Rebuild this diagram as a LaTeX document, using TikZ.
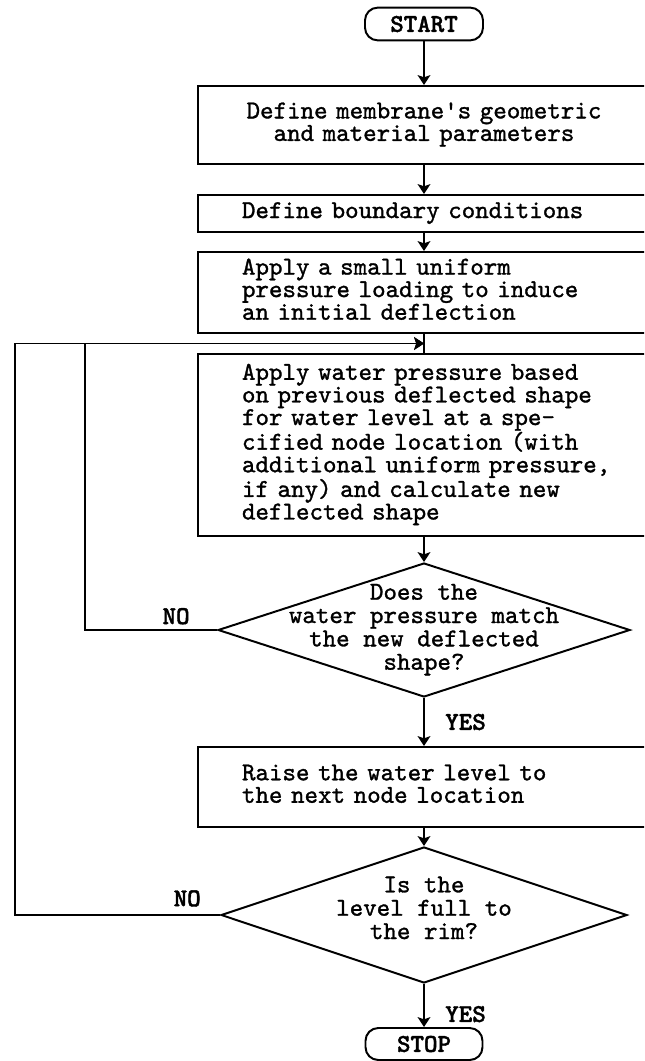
\documentclass[tikz,border=0pt]{standalone}
\usepackage{fontspec}
\newfontfamily\flowfont{lmmono10-regular}[Extension=.otf,FakeBold=1.2]
\newfontfamily\answerfont{lmmonolt10-bold}[Extension=.otf,FakeBold=1.5]
\usetikzlibrary{arrows.meta,shapes.geometric}
\usetikzlibrary{positioning,calc}
\tikzset{
    block/.style={
           rectangle,
           draw=black, line width=1.4pt,
           minimum width=11.3cm,
           text width=9.1cm,
           inner xsep=1.1cm,
           inner ysep=0pt,
           align=left,
           font=\flowfont\fontsize{18.3}{16}\selectfont,
           },
    terminal/.style={
           rectangle,
           rounded corners=0.32cm,
           draw=black, line width=1.4pt,
           minimum width=2.95cm,
           minimum height=0.82cm,
           inner sep=0pt,
           font=\answerfont\fontsize{18.3}{16}\selectfont,
           },
    decision/.style={
           diamond,
           draw=black, line width=1.4pt,
           minimum width=10.3cm,
           minimum height=3.35cm,
           inner sep=0pt,
           },
    question/.style={
           align=center,
           font=\flowfont\fontsize{18.3}{16.6}\selectfont,
           },
    answer/.style={
           font=\answerfont\fontsize{18.3}{16}\selectfont,
           },
}

\begin{document}
\begin{tikzpicture}[->,>={Stealth[length=7pt,width=9pt,inset=1.5pt]},line width=1.4pt]
        % page size of the scan, boxes run off its right side
        \path[use as bounding box,clip] (0,0) rectangle (16.1,-26.525);

        % START
        \node[terminal] (FC_START) at (10.6,-0.6) {START};

        % geometry and material
        \node[block,
            align=center,
            minimum height=1.95cm,
            node distance=2.525cm,
            below of=FC_START,
            anchor=center] (FC_DEFINE)
        {\begin{tabular}{@{}c@{}}
            Define membrane's geometric\\
            and material parameters
        \end{tabular}};

        % boundary conditions
        \node[block,
            minimum height=0.925cm,
            node distance=2.2125cm,
            below of=FC_DEFINE,
            anchor=center] (FC_BOUND)
        {\begin{tabular}{@{}l@{}}
            Define boundary conditions
        \end{tabular}};

        % initial deflection
        \node[block,
            minimum height=2.025cm,
            node distance=1.975cm,
            below of=FC_BOUND,
            anchor=center] (FC_INIT)
        {\begin{tabular}{@{}l@{}}
            Apply a small uniform\\
            pressure loading to induce\\
            an initial deflection
        \end{tabular}};

        % water pressure step
        \node[block,
            minimum height=4.55cm,
            node distance=3.8125cm,
            below of=FC_INIT,
            anchor=center] (FC_APPLY)
        {\begin{tabular}{@{}l@{}}
            Apply water pressure based\\
            on previous deflected shape\\
            for water level at a spe-\\
            cified node location (with\\
            additional uniform pressure,\\
            if any) and calculate new\\
            deflected shape
        \end{tabular}};

        % check: pressure vs. shape
        \node[decision,
            node distance=4.625cm,
            below of=FC_APPLY,
            anchor=center] (FC_MATCH) {};
        \node[question] (FC_MATCH_TXT) at (FC_MATCH)
        {\begin{tabular}{@{}c@{}}
            Does the\\
            water pressure match\\
            the new deflected\\
            shape?
        \end{tabular}};

        % next water level
        \node[block,
            minimum height=2cm,
            node distance=3.925cm,
            below of=FC_MATCH,
            anchor=center] (FC_RAISE)
        {\begin{tabular}{@{}l@{}}
            Raise the water level to\\
            the next node location
        \end{tabular}};

        % check: full to the rim
        \node[decision,
            minimum width=10.15cm,
            minimum height=3.4cm,
            node distance=3.2cm,
            below of=FC_RAISE,
            anchor=center] (FC_FULL) {};
        \node[question] (FC_FULL_TXT) at ([yshift=0.1cm]FC_FULL)
        {\begin{tabular}{@{}c@{}}
            Is the\\
            level full to\\
            the rim?
        \end{tabular}};

        % STOP
        \node[terminal,
            minimum width=2.925cm,
            minimum height=0.8cm,
            node distance=3.225cm,
            below of=FC_FULL,
            anchor=center] (FC_STOP) {STOP};

        % where both loops come back in
        \coordinate (FC_JOIN) at ($(FC_INIT.south)!0.5!(FC_APPLY.north)$);
        \coordinate (FC_INNER) at (2.125,0);
        \coordinate (FC_OUTER) at (0.375,0);

        % main line
        \path
            (FC_START)   edge (FC_DEFINE)
            (FC_DEFINE)  edge (FC_BOUND)
            (FC_BOUND)   edge (FC_INIT)
            (FC_INIT)    edge[-] (FC_APPLY)
            (FC_APPLY)   edge (FC_MATCH)
            (FC_MATCH)   edge node[answer,right,xshift=0.39cm]{YES} (FC_RAISE)
            (FC_RAISE)   edge (FC_FULL)
            (FC_FULL)    edge node[answer,right,xshift=0.39cm,pos=0.7]{YES} (FC_STOP)
            ;

        % loops back
        \draw (FC_MATCH.west) -- node[answer,above,pos=0.31]{NO}
              (FC_MATCH.west -| FC_INNER) |- (FC_JOIN);
        \draw (FC_FULL.west) -- node[answer,above,pos=0.16,yshift=2pt]{NO}
              (FC_FULL.west -| FC_OUTER) |- (FC_JOIN);

\end{tikzpicture}
\end{document}
